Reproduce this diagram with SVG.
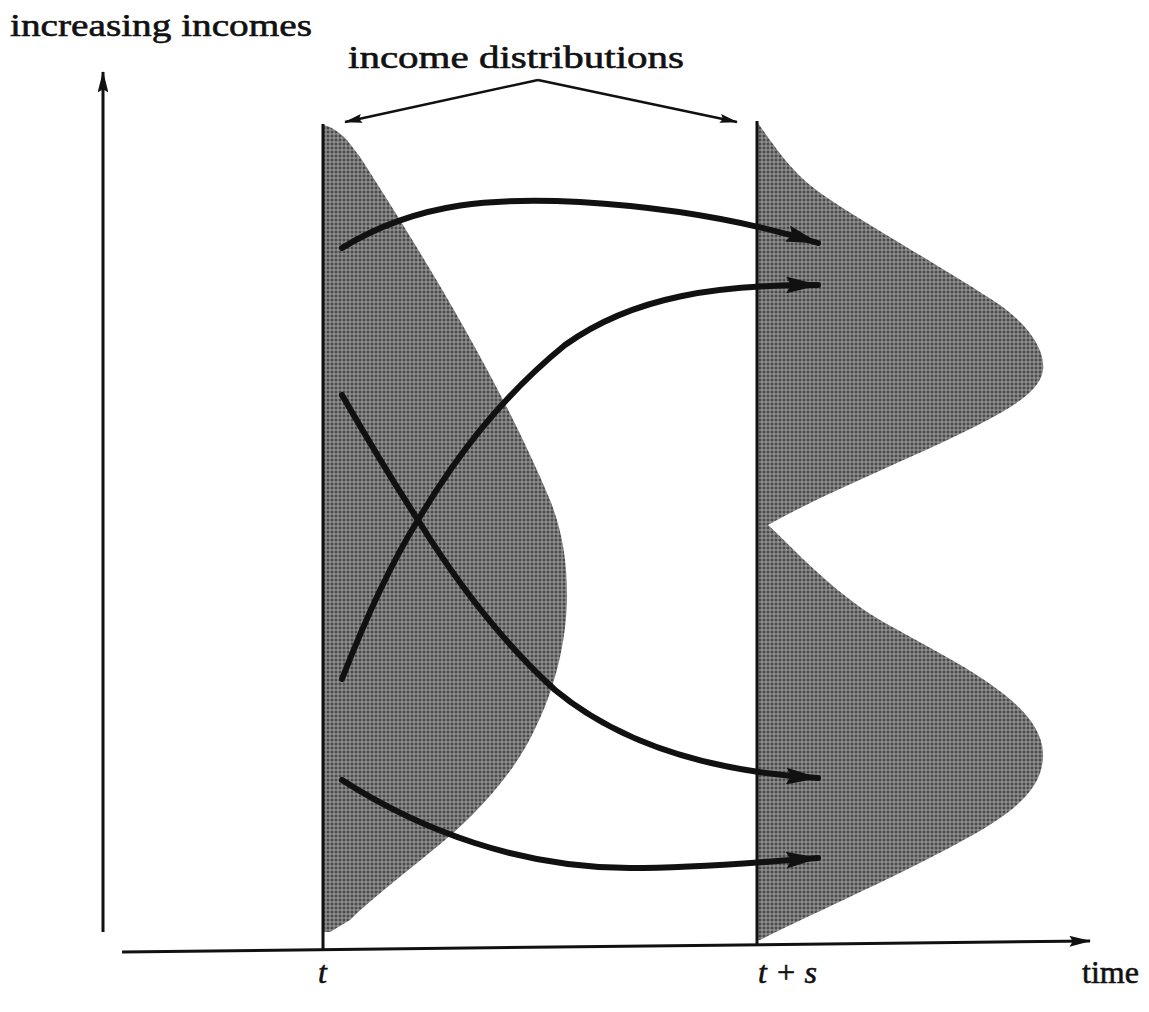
<svg xmlns="http://www.w3.org/2000/svg" width="1149" height="1012" viewBox="0 0 1149 1012">
<style>
.lbl{font-family:"Liberation Serif","DejaVu Serif",serif;font-size:32px;fill:#111;stroke:#111;stroke-width:0.6}
.it{font-style:italic}
.ax{stroke:#111;stroke-width:3;fill:none}
.flow{stroke:#111;stroke-width:6;fill:none;stroke-linecap:round}
.ptr{stroke:#111;stroke-width:2.5;fill:none}
</style>
<defs>
<pattern id="tex" width="4" height="4" patternUnits="userSpaceOnUse">
<rect width="4" height="4" fill="#4a4a4a"/>
<path d="M0 2H4M2 0V4" stroke="#a4a4a4" stroke-width="1"/>
</pattern>
<marker id="ah" viewBox="0 0 20 10" refX="19" refY="5" markerWidth="6" markerHeight="2.8" markerUnits="strokeWidth" orient="auto">
<path d="M0 0L20 5L0 10L3 5Z" fill="#111"/>
</marker>
<marker id="aa" viewBox="0 0 20 10" refX="19" refY="5" markerWidth="8" markerHeight="3.6" markerUnits="strokeWidth" orient="auto">
<path d="M0 0L20 5L0 10L3 5Z" fill="#111"/>
</marker>
<marker id="ap" viewBox="0 0 20 10" refX="19" refY="5" markerWidth="10" markerHeight="3.6" markerUnits="strokeWidth" orient="auto">
<path d="M0 0L20 5L0 10L3 5Z" fill="#111"/>
</marker>
</defs>
<rect width="1149" height="1012" fill="#fff"/>

<g id="dist-t">
<path fill="url(#tex)" d="M323,125 C330,126 338,131 347,140 L360,157 C420,250 500,380 550,500 C562,530 567,560 567,595 C567,640 555,690 533,733 C510,780 470,820 433,850 C400,877 370,900 350,920 L330,932 L323,932 Z"/>
<line class="ax" x1="323" y1="124" x2="323" y2="950"/>
</g>

<g id="dist-ts">
<path fill="url(#tex)" d="M757,122 C765,132 785,165 810,185 C840,210 940,265 1000,305 C1035,330 1045,355 1043,370 C1040,392 1010,408 980,424 C920,455 830,490 768,525 C790,545 830,590 880,620 C950,660 1040,700 1043,752 C1045,790 1010,815 960,842 C900,875 820,910 760,940 L757,940 Z"/>
<line class="ax" x1="757" y1="121" x2="757" y2="946"/>
</g>

<g id="axes">
<line class="ax" x1="103" y1="932" x2="103" y2="72" marker-end="url(#aa)"/>
<line class="ax" x1="122" y1="952" x2="1090" y2="941" marker-end="url(#aa)"/>
</g>

<g id="connectors">
<path class="flow" d="M342,248 C420,200 500,198 580,202 C680,208 760,225 818,243" marker-end="url(#ah)"/>
<path class="flow" d="M342,679 C365,620 390,565 418,520 C455,458 500,398 565,345 C635,295 720,285 818,285" marker-end="url(#ah)"/>
<path class="flow" d="M342,395 C365,435 392,480 418,520 C452,575 495,635 555,690 C625,748 720,772 818,778" marker-end="url(#ah)"/>
<path class="flow" d="M342,780 C420,830 520,868 630,868 C700,868 760,862 818,858" marker-end="url(#ah)"/>
<path class="ptr" d="M538,80 L345,122" marker-end="url(#ap)"/>
<path class="ptr" d="M538,80 L737,122" marker-end="url(#ap)"/>
</g>

<g id="labels">
<text class="lbl" x="10" y="36" textLength="302" lengthAdjust="spacingAndGlyphs">increasing incomes</text>
<text class="lbl" x="348" y="68" textLength="336" lengthAdjust="spacingAndGlyphs">income distributions</text>
<text class="lbl it" x="318" y="983">t</text>
<text class="lbl it" x="758" y="983">t + s</text>
<text class="lbl" x="1082" y="983">time</text>
</g>
</svg>
